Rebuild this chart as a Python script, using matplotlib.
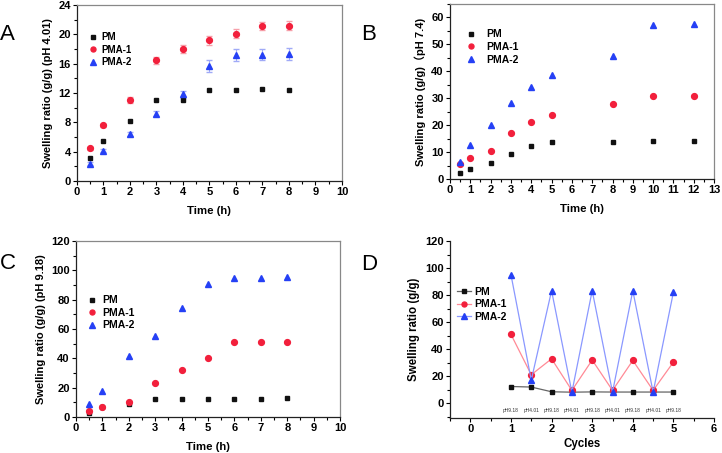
import matplotlib
matplotlib.use('Agg')
import matplotlib.pyplot as plt
from matplotlib.ticker import MultipleLocator

plt.rcParams['font.family'] = ['Liberation Sans', 'Noto Sans CJK SC', 'DejaVu Sans']
plt.rcParams['font.weight'] = 'bold'

series_names = ['PM', 'PMA-1', 'PMA-2']

# A: pH 4.01
time_a = [0.5, 1, 2, 3, 4, 5, 6, 7, 8]
pm_a = [3.2, 5.45, 8.2, 11.1, 11.05, 12.35, 12.45, 12.5, 12.4]
pma1_a = [4.45, 7.6, 11.1, 16.45, 18.0, 19.2, 20.1, 21.15, 21.2]
pma2_a = [2.35, 4.1, 6.4, 9.2, 11.8, 15.7, 17.2, 17.25, 17.3]
err1_a = [0.2, 0.2, 0.4, 0.5, 0.5, 0.6, 0.6, 0.6, 0.6]
err2_a = [0.2, 0.2, 0.3, 0.4, 0.5, 0.8, 0.8, 0.8, 0.8]

# B: pH 7.4
time_b = [0.5, 1, 2, 3, 4, 5, 8, 10, 12]
pm_b = [2.3, 3.7, 6.0, 9.1, 12.1, 13.7, 13.8, 14.2, 14.2]
pma1_b = [5.5, 7.8, 10.5, 17.1, 21.1, 23.9, 28.0, 30.8, 30.8]
pma2_b = [6.2, 12.7, 20.0, 28.1, 34.2, 38.7, 45.6, 57.3, 57.5]

# C: pH 9.18
time_c = [0.5, 1, 2, 3, 4, 5, 6, 7, 8]
pm_c = [3.0, 6.6, 9.1, 12.1, 12.1, 12.3, 12.1, 12.3, 12.8]
pma1_c = [3.9, 6.8, 10.5, 23.5, 31.9, 39.9, 51.3, 51.3, 51.3]
pma2_c = [8.7, 17.5, 41.5, 55.1, 74.5, 90.4, 95.0, 95.0, 95.4]

# D: cycles
cycle_d = [1, 1.5, 2, 2.5, 3, 3.5, 4, 4.5, 5]
ph_labels = ['pH9.18', 'pH4.01', 'pH9.18', 'pH4.01', 'pH9.18', 'pH4.01', 'pH9.18', 'pH4.01', 'pH9.18']
pm_d = [12.3, 11.9, 8.4, 8.1, 8.3, 8.2, 8.2, 8.2, 8.2]
pma1_d = [50.9, 21.0, 32.8, 9.4, 31.9, 9.4, 31.6, 9.4, 30.4]
pma2_d = [95.1, 17.0, 83.2, 8.1, 83.2, 8.1, 83.2, 8.1, 82.2]

BLACK = '#111111'
RED = '#f2203c'
BLUE = '#2540f5'

fig = plt.figure(figsize=(7.22, 4.53), dpi=100)
axA = fig.add_axes([0.1066, 0.6004, 0.367, 0.3885])
axB = fig.add_axes([0.6233, 0.6049, 0.3657, 0.3863])
axC = fig.add_axes([0.1053, 0.0795, 0.3657, 0.3885])
axD = fig.add_axes([0.6233, 0.0773, 0.3657, 0.3907])


def style(ax, box=True):
    ax.tick_params(direction='out', length=3, width=0.8, labelsize=8, pad=1.5)
    ax.tick_params(which='minor', direction='out', length=2, width=0.8)
    for lab in ax.get_xticklabels() + ax.get_yticklabels():
        lab.set_fontweight('bold')
    for s in ['left', 'bottom']:
        ax.spines[s].set_linewidth(0.9)
        ax.spines[s].set_color('#222222')
    if box:
        for s in ['top', 'right']:
            ax.spines[s].set_linewidth(0.9)
            ax.spines[s].set_color('#888888')
    else:
        ax.spines['top'].set_visible(False)
        ax.spines['right'].set_visible(False)


def scatter3(ax, t, a, b, c):
    ax.plot(t, a, 's', color=BLACK, ms=3.4, label=series_names[0])
    ax.plot(t, b, 'o', color=RED, ms=4.2, label=series_names[1])
    ax.plot(t, c, '^', color=BLUE, ms=4.4, label=series_names[2])


def legend(ax, x, y, size, pad, hl=1.0):
    ax.legend(loc='upper left', bbox_to_anchor=(x, y), frameon=False,
              prop={'size': size, 'weight': 'bold'}, handletextpad=pad,
              labelspacing=0.25, borderpad=0, borderaxespad=0, handlelength=hl,
              markerscale=0.85)


# Panel A
axA.errorbar(time_a, pma1_a, yerr=err1_a, fmt='none', ecolor='#f7a0aa', elinewidth=0.8, capsize=2)
axA.errorbar(time_a, pma2_a, yerr=err2_a, fmt='none', ecolor='#a0aaf7', elinewidth=0.8, capsize=2)
scatter3(axA, time_a, pm_a, pma1_a, pma2_a)
axA.set_xlim(0, 10)
axA.set_ylim(0, 24)
axA.xaxis.set_major_locator(MultipleLocator(1))
axA.xaxis.set_minor_locator(MultipleLocator(0.5))
axA.yaxis.set_major_locator(MultipleLocator(4))
axA.yaxis.set_minor_locator(MultipleLocator(2))
axA.set_xlabel('Time (h)', fontsize=8.2, fontweight='bold', labelpad=6)
axA.set_ylabel('Swelling ratio (g/g) (pH 4.01)', fontsize=8, fontweight='bold', labelpad=4)
legend(axA, 0.042, 0.845, 7, 0.33)
style(axA)

# Panel B
scatter3(axB, time_b, pm_b, pma1_b, pma2_b)
axB.set_xlim(0, 13)
axB.set_ylim(0, 65)
axB.xaxis.set_major_locator(MultipleLocator(1))
axB.xaxis.set_minor_locator(MultipleLocator(0.5))
axB.yaxis.set_major_locator(MultipleLocator(10))
axB.yaxis.set_minor_locator(MultipleLocator(5))
axB.set_xlabel('Time (h)', fontsize=8.2, fontweight='bold', labelpad=6)
axB.set_ylabel('Swelling ratio (g/g)（pH 7.4)', fontsize=8, fontweight='bold', labelpad=4)
legend(axB, 0.06, 0.855, 7.5, 0.94)
style(axB)

# Panel C
scatter3(axC, time_c, pm_c, pma1_c, pma2_c)
axC.set_xlim(0, 10)
axC.set_ylim(0, 120)
axC.xaxis.set_major_locator(MultipleLocator(1))
axC.xaxis.set_minor_locator(MultipleLocator(0.5))
axC.yaxis.set_major_locator(MultipleLocator(20))
axC.yaxis.set_minor_locator(MultipleLocator(10))
axC.set_xlabel('Time (h)', fontsize=8.2, fontweight='bold', labelpad=6)
axC.set_ylabel('Swelling ratio (g/g) (pH 9.18)', fontsize=8, fontweight='bold', labelpad=4)
legend(axC, 0.042, 0.692, 7.5, 0.46)
style(axC)

# Panel D
axD.plot(cycle_d, pm_d, '-s', color='#666666', ms=3.4, lw=0.9, mfc=BLACK, mec=BLACK, label=series_names[0])
axD.plot(cycle_d, pma1_d, '-o', color='#ff8a96', ms=4.2, lw=0.9, mfc=RED, mec=RED, label=series_names[1])
axD.plot(cycle_d, pma2_d, '-^', color='#8a98ff', ms=4.4, lw=0.9, mfc=BLUE, mec=BLUE, label=series_names[2])
for x, lab in zip(cycle_d, ph_labels):
    axD.text(x, -5.3, lab, fontsize=3.5, fontweight='normal', ha='center', va='center', color='#333333')
axD.set_xlim(-0.5, 6)
axD.set_ylim(-11, 120)
axD.xaxis.set_major_locator(MultipleLocator(1))
axD.xaxis.set_minor_locator(MultipleLocator(0.5))
axD.set_yticks(range(0, 121, 20))
axD.yaxis.set_minor_locator(MultipleLocator(10))
axD.set_xlabel('Cycles', fontsize=8.3, fontweight='bold', labelpad=3)
axD.set_ylabel('Swelling ratio (g/g)', fontsize=8.3, fontweight='bold', labelpad=4)
legend(axD, 0.027, 0.742, 7.5, 0.3, hl=1.35)
style(axD, box=False)

for label, x, y in [('A', 0.0, 0.923), ('B', 0.5, 0.923), ('C', 0.0, 0.419), ('D', 0.5, 0.417)]:
    fig.text(x, y, label, fontsize=16, fontweight='normal', ha='left', va='center')

fig.savefig('out.png', dpi=100)
